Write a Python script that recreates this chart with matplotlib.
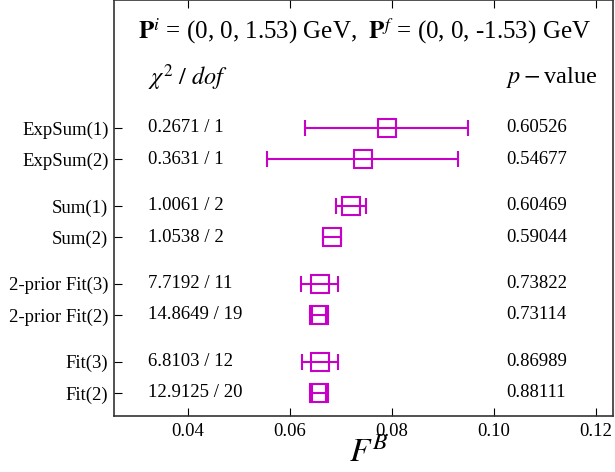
import matplotlib.pyplot as plt

plt.rcParams['font.family'] = ['Liberation Serif', 'DejaVu Serif']
plt.rcParams['mathtext.fontset'] = 'stix'

# data
labels = ['ExpSum(1)', 'ExpSum(2)', 'Sum(1)', 'Sum(2)',
          '2-prior Fit(3)', '2-prior Fit(2)', 'Fit(3)', 'Fit(2)']
ypos = [8.5, 7.5, 6.0, 5.0, 3.5, 2.5, 1.0, 0.0]
fb = [0.0790, 0.0743, 0.0720, 0.0683, 0.0659, 0.0658, 0.0659, 0.0658]
fb_err = [0.0160, 0.0187, 0.0029, 0.0017, 0.0036, 0.0014, 0.0035, 0.0014]
chi2_dof = ['0.2671 / 1', '0.3631 / 1', '1.0061 / 2', '1.0538 / 2',
            '7.7192 / 11', '14.8649 / 19', '6.8103 / 12', '12.9125 / 20']
pvals = ['0.60526', '0.54677', '0.60469', '0.59044',
         '0.73822', '0.73114', '0.86989', '0.88111']

color = '#c800c8'

fig = plt.figure(figsize=(6.15, 4.72), dpi=100)
ax = fig.add_axes([0.1854, 0.1186, 0.812, 0.8814])

ax.errorbar(fb, ypos, xerr=fb_err, fmt='s', color=color, mfc='none',
            mec=color, ms=13.5, mew=1.5, elinewidth=1.5, capsize=6, capthick=1.5)

for y, c, p in zip(ypos, chi2_dof, pvals):
    ax.text(0.0322, y, c, fontsize=13.5, va='center', ha='left')
    ax.text(0.1024, y, p, fontsize=13.5, va='center', ha='left')

ax.text(0.0303, 11.6, r'$\mathbf{P}^i$ = (0, 0, 1.53) GeV,  $\mathbf{P}^f$ = (0, 0, -1.53) GeV',
        fontsize=18, va='center', ha='left')
ax.text(0.0322, 10.1, r'$\chi^2\ /\ dof$', fontsize=17.5, va='center', ha='left')
ax.text(0.1024, 10.1, r'$p-$value', fontsize=17.5, va='center', ha='left')

ax.set_xlim(0.0256, 0.1234)
ax.set_ylim(-0.74, 12.6)
ax.set_xticks([0.04, 0.06, 0.08, 0.10, 0.12])
ax.set_xticklabels(['0.04', '0.06', '0.08', '0.10', '0.12'])
ax.set_yticks(ypos)
ax.set_yticklabels(labels)
ax.tick_params(axis='x', direction='in', top=True, length=6, labelsize=13.5, pad=5)
ax.tick_params(axis='y', direction='in', length=6, labelsize=13.5, pad=4)
ax.set_xlabel(r'$F^B$', fontsize=24)
ax.xaxis.set_label_coords(0.51, -0.053)
for s in ax.spines.values():
    s.set_linewidth(1.2)
    s.set_color('#333333')

fig.savefig('out.png', dpi=100)
